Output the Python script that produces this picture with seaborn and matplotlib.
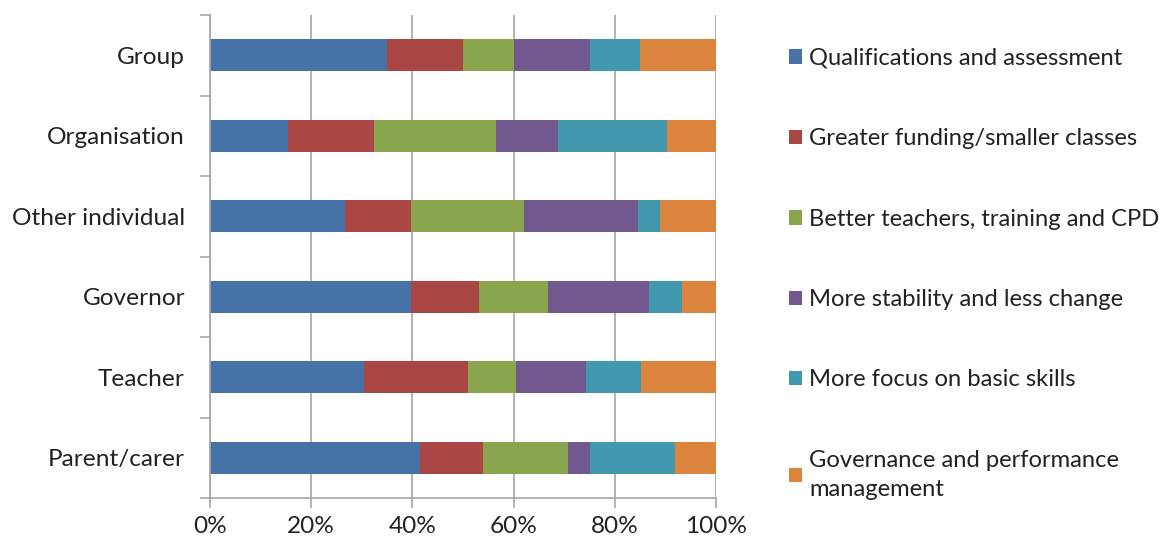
import matplotlib
matplotlib.use("Agg")
import matplotlib.pyplot as plt
from matplotlib.patches import Patch
from matplotlib.ticker import PercentFormatter, FixedLocator
import seaborn as sns
import pandas as pd
import numpy as np

# respondent types, top to bottom
categories = ["Group", "Organisation", "Other individual", "Governor", "Teacher", "Parent/carer"]

# share of responses per theme (%)
qualifications = [35.0, 15.5, 26.7, 39.8, 30.4, 41.5]
funding = [15.0, 17.0, 13.1, 13.4, 20.6, 12.5]
teachers = [10.0, 24.1, 22.3, 13.5, 9.5, 16.8]
stability = [15.0, 12.2, 22.4, 20.0, 13.8, 4.3]
basic_skills = [10.0, 21.5, 4.5, 6.5, 10.9, 16.7]
governance = [15.0, 9.7, 11.0, 6.8, 14.8, 8.2]

series_names = [
    "Qualifications and assessment",
    "Greater funding/smaller classes",
    "Better teachers, training and CPD",
    "More stability and less change",
    "More focus on basic skills",
    "Governance and performance\nmanagement",
]
colors = ["#4572A7", "#AA4643", "#89A54E", "#71588F", "#4198AF", "#DB843D"]

sns.set_style("white")
plt.rcParams["font.family"] = ["Lato", "DejaVu Sans"]
FS = 17.6
LFS = 17.1

df = pd.DataFrame({
    "category": categories,
    "s0": qualifications, "s1": funding, "s2": teachers,
    "s3": stability, "s4": basic_skills, "s5": governance,
})
cols = ["s0", "s1", "s2", "s3", "s4", "s5"]
cum = df[cols].cumsum(axis=1)
cum["category"] = df["category"]

fig = plt.figure(figsize=(11.73, 5.43), dpi=100)
ax = fig.add_axes([210 / 1173, 1 - 498 / 543, (716 - 210) / 1173, (498 - 15) / 543])

# draw cumulative totals from largest to smallest so each segment shows
for i in reversed(range(len(cols))):
    sns.barplot(data=cum, x=cols[i], y="category", orient="h", color=colors[i],
                width=0.4, saturation=1, linewidth=0, ax=ax)

ax.set_xlim(0, 100)
ax.set_ylim(len(categories) - 0.5, -0.5)
ax.set_xticks(np.arange(0, 101, 20))
ax.xaxis.set_major_formatter(PercentFormatter(decimals=0))
ax.set_xlabel("")
ax.set_ylabel("")
ax.grid(axis="x", color="#a6a6a6", linewidth=1.2)
ax.set_axisbelow(True)
for s in ["top", "right"]:
    ax.spines[s].set_visible(False)
for s in ["left", "bottom"]:
    ax.spines[s].set_color("#a6a6a6")
    ax.spines[s].set_linewidth(1.2)

# tick marks between categories on y, at gridlines on x
ax.yaxis.set_minor_locator(FixedLocator(np.arange(-0.5, len(categories), 1)))
ax.tick_params(axis="y", which="major", length=0, labelsize=FS, pad=18, colors="#222222")
ax.tick_params(axis="y", which="minor", length=7, width=1.2, color="#a6a6a6", left=True)
ax.tick_params(axis="x", which="major", length=7, width=1.2, color="#a6a6a6",
               bottom=True, labelsize=FS, labelcolor="#222222", pad=6)

handles = [Patch(facecolor=c, edgecolor="none") for c in colors]
leg = fig.legend(handles, series_names, loc="upper left",
                 bbox_to_anchor=(789 / 1173, 1 - 48 / 543),
                 frameon=False, fontsize=LFS, handlelength=0.55, handleheight=0.55,
                 handletextpad=0.3, labelspacing=2.5, borderaxespad=0, borderpad=0,
                 labelcolor="#222222")
for t in leg.get_texts():
    t.set_linespacing(1.45)

fig.savefig("out.png", dpi=100)
